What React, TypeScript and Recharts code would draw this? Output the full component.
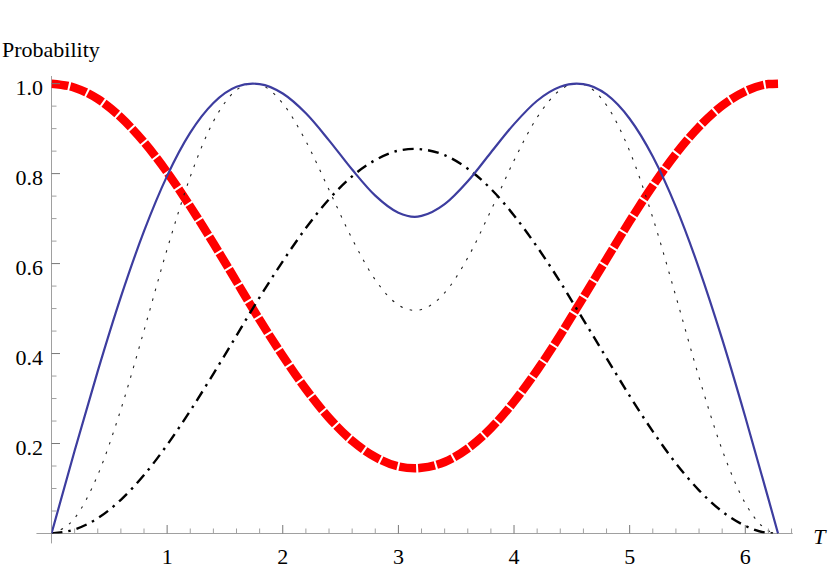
import { LineChart, Line, XAxis, YAxis, ReferenceLine } from "recharts";

// sample points along T (0 .. 2π)
const tValues = [
  0, 0.2, 0.4, 0.6, 0.8, 1.0, 1.2, 1.4, 1.6, 1.74, 1.8, 2.0, 2.2, 2.4, 2.6, 2.8, 3.0, 3.1416,
  3.2, 3.4, 3.6, 3.8, 4.0, 4.2, 4.4, 4.54, 4.6, 4.8, 5.0, 5.2, 5.4, 5.6, 5.8, 6.0, 6.2, 6.2832,
];
const redValues = [
  1.0, 0.991, 0.966, 0.925, 0.87, 0.803, 0.727, 0.645, 0.56, 0.5, 0.475, 0.395, 0.321, 0.257,
  0.206, 0.17, 0.149, 0.145, 0.146, 0.159, 0.189, 0.234, 0.293, 0.363, 0.441, 0.5, 0.525, 0.61,
  0.694, 0.773, 0.844, 0.904, 0.951, 0.983, 0.999, 1.0,
];
const dashDotValues = [
  0, 0.009, 0.034, 0.075, 0.13, 0.197, 0.273, 0.355, 0.44, 0.5, 0.525, 0.605, 0.679, 0.743,
  0.794, 0.83, 0.851, 0.855, 0.854, 0.841, 0.811, 0.766, 0.707, 0.637, 0.559, 0.5, 0.475, 0.39,
  0.306, 0.227, 0.156, 0.096, 0.049, 0.017, 0.001, 0,
];
const dottedValues = [
  0, 0.034, 0.13, 0.276, 0.451, 0.632, 0.793, 0.916, 0.986, 1.0, 0.998, 0.956, 0.872, 0.764,
  0.655, 0.564, 0.508, 0.496, 0.498, 0.535, 0.613, 0.718, 0.829, 0.925, 0.986, 1.0, 0.998, 0.952,
  0.85, 0.702, 0.527, 0.347, 0.186, 0.067, 0.006, 0,
];
const blueValues = [
  0, 0.184, 0.361, 0.526, 0.672, 0.795, 0.891, 0.957, 0.993, 1.0, 0.999, 0.978, 0.934, 0.874,
  0.809, 0.751, 0.713, 0.704, 0.706, 0.732, 0.783, 0.847, 0.91, 0.962, 0.993, 1.0, 0.999, 0.976,
  0.922, 0.838, 0.726, 0.589, 0.432, 0.259, 0.077, 0,
];

const xTicks = [
  0.2, 0.4, 0.6, 0.8, 1, 1.2, 1.4, 1.6, 1.8, 2, 2.2, 2.4, 2.6, 2.8, 3, 3.2, 3.4, 3.6, 3.8, 4,
  4.2, 4.4, 4.6, 4.8, 5, 5.2, 5.4, 5.6, 5.8, 6, 6.2, 6.4,
];
const yTicks = [
  0.05, 0.1, 0.15, 0.2, 0.25, 0.3, 0.35, 0.4, 0.45, 0.5, 0.55, 0.6, 0.65, 0.7, 0.75, 0.8, 0.85,
  0.9, 0.95, 1.0,
];

const rows = tValues.map((t, i) => ({
  t,
  red: redValues[i],
  dashDot: dashDotValues[i],
  dotted: dottedValues[i],
  blue: blueValues[i],
}));

const FONT = "'Liberation Serif', 'Times New Roman', serif";
const AXIS = "#a0a0a0";

function XTick({ x, y, payload }: any) {
  const v = payload.value as number;
  const major = Math.abs(v - Math.round(v)) < 1e-6;
  return (
    <g>
      <line x1={x} x2={x} y1={y} y2={y - (major ? 8.5 : 5)} stroke={major ? "#777" : AXIS} strokeWidth={1} />
      {major && (
        <text x={x} y={y + 30} textAnchor="middle" fontFamily={FONT} fontSize={22} fill="#000">
          {v}
        </text>
      )}
    </g>
  );
}

function YTick({ x, y, payload }: any) {
  const v = payload.value as number;
  const major = Math.round(v * 100) % 20 === 0;
  return (
    <g>
      <line x1={x} x2={x + (major ? 8.5 : 5)} y1={y} y2={y} stroke={major ? "#777" : AXIS} strokeWidth={1} />
      {major && (
        <text x={x - 8.5} y={y + 11} textAnchor="end" fontFamily={FONT} fontSize={22} fill="#000">
          {v.toFixed(1)}
        </text>
      )}
    </g>
  );
}

export default function App() {
  return (
    <div style={{ position: "absolute", left: 0, top: 0, width: 830, height: 572, background: "#fff" }}>
      <LineChart
        width={830}
        height={572}
        data={rows}
        margin={{ top: 76, right: 37.3, bottom: 37.5, left: 50.5 }}
      >
        <XAxis
          dataKey="t"
          type="number"
          domain={[0, 6.41]}
          allowDataOverflow
          ticks={xTicks}
          interval={0}
          height={1}
          axisLine={false}
          tickLine={false}
          tickSize={0}
          tickMargin={0}
          tick={(p: any) => <XTick {...p} />}
          label={{
            content: ({ viewBox }: any) => (
              <text
                x={viewBox.x + viewBox.width + 20.5}
                y={viewBox.y + 10}
                fontFamily={FONT}
                fontStyle="italic"
                fontSize={22}
                fill="#000"
              >
                T
              </text>
            ),
          }}
        />
        <YAxis
          type="number"
          domain={[0, 1.017]}
          allowDataOverflow
          ticks={yTicks}
          interval={0}
          width={1}
          axisLine={false}
          tickLine={false}
          tickSize={0}
          tickMargin={0}
          tick={(p: any) => <YTick {...p} />}
          label={{
            content: ({ viewBox }: any) => (
              <text x={2} y={viewBox.y - 19} fontFamily={FONT} fontSize={22} fill="#000">
                Probability
              </text>
            ),
          }}
        />
        <ReferenceLine
          segment={[{ x: -0.13, y: 0 }, { x: 6.41, y: 0 }]}
          stroke={AXIS}
          strokeWidth={1}
          ifOverflow="visible"
        />
        <ReferenceLine
          segment={[{ x: 0, y: -0.022 }, { x: 0, y: 1.017 }]}
          stroke={AXIS}
          strokeWidth={1}
          ifOverflow="visible"
        />
        <Line
          type="monotoneX"
          dataKey="red"
          stroke="#ff0000"
          strokeWidth={8.5}
          strokeDasharray="17 2"
          dot={false}
          activeDot={false}
          isAnimationActive={false}
        />
        <Line
          type="monotoneX"
          dataKey="dotted"
          stroke="#222"
          strokeWidth={1.1}
          strokeDasharray="2.5 7.5"
          dot={false}
          activeDot={false}
          isAnimationActive={false}
        />
        <Line
          type="monotoneX"
          dataKey="dashDot"
          stroke="#000"
          strokeWidth={2.4}
          strokeDasharray="11 6 2.5 6"
          dot={false}
          activeDot={false}
          isAnimationActive={false}
        />
        <Line
          type="monotoneX"
          dataKey="blue"
          stroke="#3d3d9f"
          strokeWidth={2.2}
          dot={false}
          activeDot={false}
          isAnimationActive={false}
        />
      </LineChart>
    </div>
  );
}
